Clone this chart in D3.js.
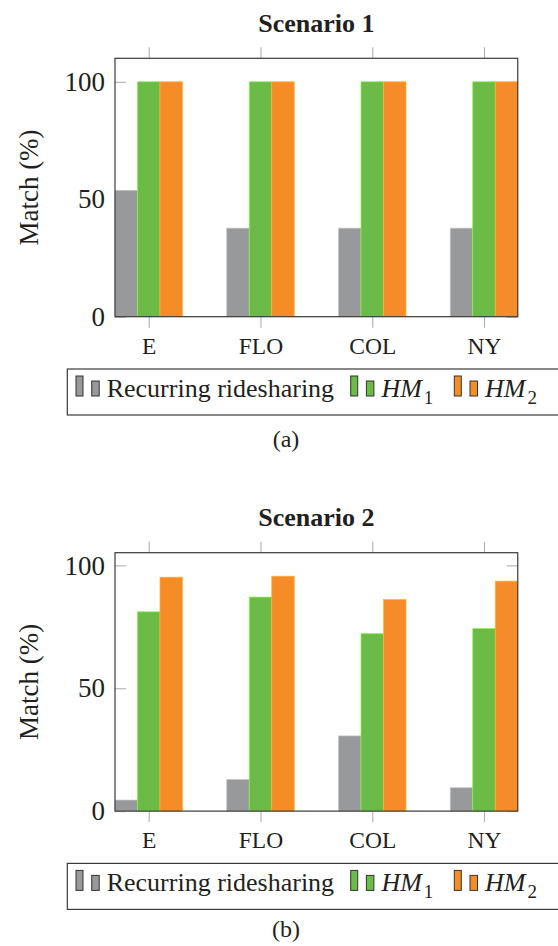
<!DOCTYPE html>
<html>
<head>
<meta charset="utf-8">
<script src="https://cdn.jsdelivr.net/npm/d3@7"></script>
<style>
  body { margin: 0; background: #fff; }
</style>
</head>
<body>
<div id="chart"></div>
<script>
// Data
const cities = ["E", "FLO", "COL", "NY"];
const seriesKeys = ["rec", "hm1", "hm2"];
const yTicks = [0, 50, 100];

const scenario1Recurring = [53.8, 37.7, 37.7, 37.7];
const scenario1HM1 = [100, 100, 100, 100];
const scenario1HM2 = [100, 100, 100, 100];

const scenario2Recurring = [4.5, 12.9, 30.6, 9.5];
const scenario2HM1 = [81.1, 87.1, 72.2, 74.3];
const scenario2HM2 = [95.2, 95.6, 86.1, 93.6];

const colors = { rec: "#98999b", hm1: "#6bbb46", hm2: "#f68c28" };
const serifFont = '"Liberation Serif"';

// Layout
const width = 558;
const height = 946;
const barW = 22.5;
const plotLeft = 115;
const plotRight = plotLeft + 402.75;
const plotH = 258.4;

const svg = d3.select("#chart")
    .append("svg")
    .attr("width", width)
    .attr("height", height);

function drawPanel(cfg) {
    const top = cfg.top;
    const bottom = top + plotH;
    const data = cities.map((c, i) => ({
        city: c,
        rec: cfg.rec[i],
        hm1: cfg.hm1[i],
        hm2: cfg.hm2[i]
    }));
    const maxV = d3.max(data, d => Math.max(d.rec, d.hm1, d.hm2));

    const x = d3.scalePoint()
        .domain(cities)
        .range([plotLeft + 1.5 * barW, plotRight - 1.5 * barW]);
    const xSub = d3.scaleBand()
        .domain(seriesKeys)
        .range([-1.5 * barW, 1.5 * barW]);
    const y = d3.scaleLinear()
        .domain([0, maxV * 1.1])
        .range([bottom, top]);

    const g = svg.append("g");

    // title
    g.append("text")
        .attr("x", (plotLeft + plotRight) / 2)
        .attr("y", top - 26.5)
        .attr("text-anchor", "middle")
        .attr("fill", "#231f20")
        .style("font-family", serifFont)
        .style("font-size", "26px")
        .style("font-weight", "bold")
        .text(cfg.title);

    // y ticks (inside, both sides)
    const yAxis = g.append("g")
        .attr("transform", `translate(${plotLeft},0)`)
        .call(d3.axisLeft(y).tickValues(yTicks).tickSize(-11).tickPadding(10));
    yAxis.select(".domain").remove();
    yAxis.attr("font-family", null);
    yAxis.selectAll("line").attr("stroke", "#b0b0b0").attr("stroke-width", 1.1);
    yAxis.selectAll("text")
        .style("font-family", serifFont)
        .style("font-size", "27px")
        .attr("fill", "#231f20");

    const yAxisR = g.append("g")
        .attr("transform", `translate(${plotRight},0)`)
        .call(d3.axisRight(y).tickValues(yTicks).tickSize(-11).tickFormat(""));
    yAxisR.select(".domain").remove();
    yAxisR.selectAll("line").attr("stroke", "#b0b0b0").attr("stroke-width", 1.1);

    // x ticks (outside, top and bottom)
    const xAxis = g.append("g")
        .attr("transform", `translate(0,${bottom})`)
        .call(d3.axisBottom(x).tickSize(11).tickPadding(9.5));
    xAxis.select(".domain").remove();
    xAxis.attr("font-family", null);
    xAxis.selectAll("line").attr("stroke", "#b0b0b0").attr("stroke-width", 1.1);
    xAxis.selectAll("text")
        .style("font-family", serifFont)
        .style("font-size", "23.5px")
        .attr("fill", "#231f20");

    const xAxisT = g.append("g")
        .attr("transform", `translate(0,${top})`)
        .call(d3.axisTop(x).tickSize(11).tickFormat(""));
    xAxisT.select(".domain").remove();
    xAxisT.selectAll("line").attr("stroke", "#b0b0b0").attr("stroke-width", 1.1);

    // bars
    seriesKeys.forEach(k => {
        g.append("g")
            .selectAll("rect")
            .data(data)
            .enter()
            .append("rect")
            .attr("x", d => x(d.city) + xSub(k))
            .attr("y", d => y(d[k]))
            .attr("width", xSub.bandwidth())
            .attr("height", d => y(0) - y(d[k]))
            .attr("fill", colors[k])
            .attr("stroke", d3.color(colors[k]).brighter(0.7))
            .attr("stroke-width", 0.7);
    });

    // frame
    g.append("rect")
        .attr("x", plotLeft)
        .attr("y", top)
        .attr("width", plotRight - plotLeft)
        .attr("height", plotH)
        .attr("fill", "none")
        .attr("stroke", "#3a3a3a")
        .attr("stroke-width", 1.2);

    // y label
    g.append("text")
        .attr("transform", `translate(38,${(top + bottom) / 2}) rotate(-90)`)
        .attr("text-anchor", "middle")
        .attr("fill", "#231f20")
        .style("font-family", serifFont)
        .style("font-size", "27px")
        .text("Match (%)");

    // legend
    const lgTop = bottom + 52.3;
    const lgLeft = 67.3;
    const lg = g.append("g").attr("transform", `translate(${lgLeft},${lgTop})`);
    lg.append("rect")
        .attr("width", 520)
        .attr("height", 46)
        .attr("fill", "#fff")
        .attr("stroke", "#3a3a3a")
        .attr("stroke-width", 1.2);

    const base = 28;
    const items = [
        { key: "rec", label: "Recurring ridesharing", at: 8.7 },
        { key: "hm1", label: "HM", sub: "1", at: 283.4 },
        { key: "hm2", label: "HM", sub: "2", at: 387 }
    ];
    items.forEach(it => {
        lg.append("rect")
            .attr("x", it.at).attr("y", base - 21)
            .attr("width", 7).attr("height", 20)
            .attr("fill", colors[it.key])
            .attr("stroke", "#333").attr("stroke-width", 1);
        lg.append("rect")
            .attr("x", it.at + 15.7).attr("y", base - 16)
            .attr("width", 7.5).attr("height", 15)
            .attr("fill", colors[it.key])
            .attr("stroke", "#333").attr("stroke-width", 1);
        const t = lg.append("text")
            .attr("x", it.at + 30.7)
            .attr("y", base)
            .attr("fill", "#231f20")
            .style("font-family", serifFont)
            .style("font-size", "26px");
        if (it.sub) {
            t.append("tspan")
                .style("font-style", "italic")
                .text(it.label);
            t.append("tspan")
                .attr("dx", 2)
                .attr("dy", 7)
                .style("font-size", "19px")
                .text(it.sub);
        } else {
            t.text(it.label);
        }
    });

    // caption
    g.append("text")
        .attr("x", 286)
        .attr("y", cfg.captionY)
        .attr("text-anchor", "middle")
        .attr("fill", "#231f20")
        .style("font-family", serifFont)
        .style("font-size", "24px")
        .text(cfg.caption);
}

drawPanel({
    title: "Scenario 1",
    top: 58.3,
    rec: scenario1Recurring,
    hm1: scenario1HM1,
    hm2: scenario1HM2,
    caption: "(a)",
    captionY: 446.7
});

drawPanel({
    title: "Scenario 2",
    top: 552.7,
    rec: scenario2Recurring,
    hm1: scenario2HM1,
    hm2: scenario2HM2,
    caption: "(b)",
    captionY: 936.7
});
</script>
</body>
</html>
